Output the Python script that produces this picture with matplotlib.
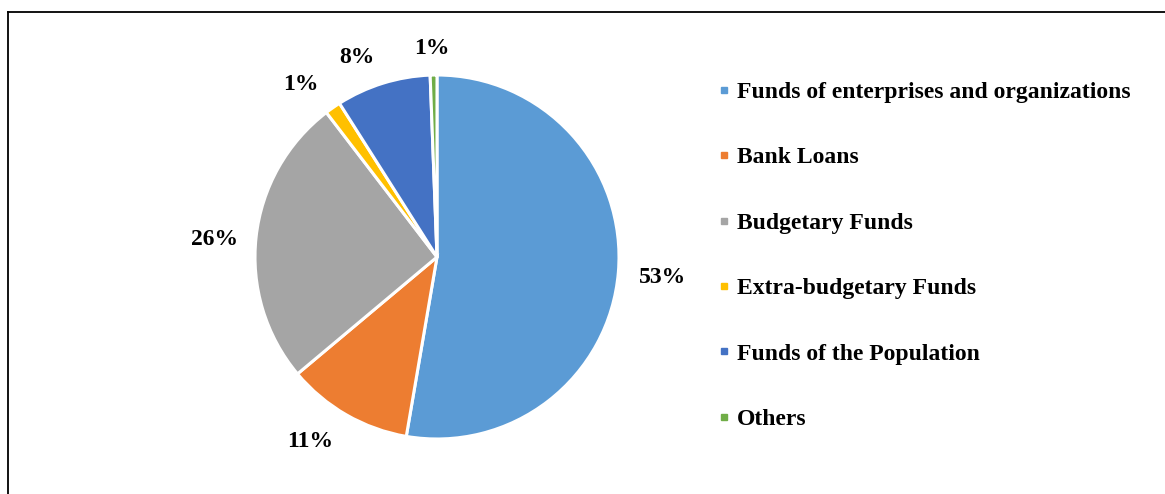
import matplotlib
matplotlib.use("Agg")
import matplotlib.pyplot as plt
from matplotlib.lines import Line2D

categories = [
    "Funds of enterprises and organizations",
    "Bank Loans",
    "Budgetary Funds",
    "Extra-budgetary Funds",
    "Funds of the Population",
    "Others",
]
shares = [52.7, 11.2, 25.7, 1.4, 8.4, 0.6]
colors = ["#5B9BD5", "#ED7D31", "#A5A5A5", "#FFC000", "#4472C4", "#70AD47"]

plt.rcParams["font.family"] = ["Liberation Serif", "DejaVu Serif"]
plt.rcParams["font.weight"] = "bold"

W, H = 1165, 494
fig = plt.figure(figsize=(W / 100, H / 100), dpi=100)

# pie axes: center (437, 257) px, radius 182 px
cx, cy, r = 437, 257, 182
ax = fig.add_axes([(cx - r) / W, (H - cy - r) / H, 2 * r / W, 2 * r / H])
wedges, _, autotexts = ax.pie(
    shares,
    colors=colors,
    startangle=90,
    counterclock=False,
    autopct="%.0f%%",
    pctdistance=1.21,
    wedgeprops=dict(edgecolor="white", linewidth=2.2),
    textprops=dict(fontsize=17, fontweight="bold", color="black"),
)
# small pixel nudges so the labels sit where Excel put them
nudges = [(6, -2), (-17, 6), (-4, -7), (-10, -8), (-15, -11), (-1, -12)]
for t, (dx, dy) in zip(autotexts, nudges):
    x, y = t.get_position()
    t.set_position((x + dx / r, y + dy / r))
    t.set_clip_on(False)
ax.set_xlim(-1, 1)
ax.set_ylim(-1, 1)
ax.set_aspect("equal")

handles = [
    Line2D([], [], marker="s", linestyle="none", markersize=5,
           markerfacecolor=c, markeredgecolor=c)
    for c in colors
]
fig.legend(
    handles, categories,
    loc="upper left",
    bbox_to_anchor=(708.5 / W, 1 - 72 / H),
    frameon=False,
    prop=dict(size=17, weight="bold"),
    handlelength=0.5,
    handletextpad=0.3,
    labelspacing=1.86,
    borderaxespad=0,
)

# partial frame: top and left edges
fig.add_artist(Line2D([8 / W, 1], [1 - 12 / H, 1 - 12 / H], color="black", linewidth=1.3))
fig.add_artist(Line2D([8 / W, 8 / W], [0, 1 - 12 / H], color="black", linewidth=1.3))

fig.savefig("out.png", dpi=100)
